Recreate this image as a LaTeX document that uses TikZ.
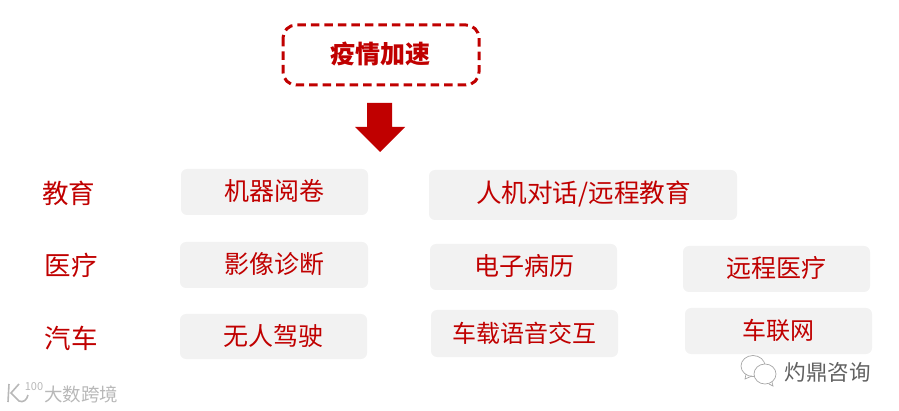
\documentclass[tikz,border=0pt]{standalone}
\usepackage{fontspec}
\usepackage{xcolor}
\setmainfont{Noto Sans CJK SC}
\definecolor{darkred}{HTML}{C00000}
\definecolor{boxgray}{HTML}{F2F2F2}
\tikzset{
  rowlabel/.style={text=darkred,font=\fontsize{26.5}{30}\selectfont},
  itemtext/.style={text=darkred,font=\fontsize{25}{29}\selectfont},
  smalltext/.style={text=darkred,font=\fontsize{24}{28}\selectfont},
  itemfill/.style={fill=boxgray,rounded corners=6pt},
  markgray/.style={text=black!62,font=\fontsize{21.5}{25}\selectfont,inner sep=0pt},
  marklight/.style={text=black!28,font=\fontsize{18.5}{22}\selectfont,inner sep=0pt}
}
\begin{document}
\begin{tikzpicture}[x=1pt,y=-1pt]
\useasboundingbox (0,0) rectangle (899,411);
% top box and arrow
\draw[darkred,line width=3pt,rounded corners=13pt,dash pattern=on 8.5pt off 5pt] (283,25) rectangle (479,85);
\node[text=darkred,font=\fontsize{25}{29}\selectfont\bfseries] (speedup) at (380.5,54) {疫情加速};
\fill[darkred] (367,103) -- (392,103) -- (392,127) -- (405,127) -- (380,152) -- (355,127) -- (367,127) -- cycle;
% row labels
\node[rowlabel] (edu) at (68.5,193) {教育};
\node[rowlabel] (med) at (71,265) {医疗};
\node[rowlabel] (car) at (71,338) {汽车};
% first row
\fill[itemfill] (181,169) rectangle (368,215);
\node[itemtext] (marking) at (274,191) {机器阅卷};
\fill[itemfill] (429,170) rectangle (737,220);
\node[text=darkred,font=\fontsize{25.6}{29}\selectfont] (dialog) at (583.5,194) {人机对话/远程教育};
% second row
\fill[itemfill] (180,242) rectangle (368,288);
\node[itemtext] (imaging) at (274,264) {影像诊断};
\fill[itemfill] (430,244) rectangle (617,290);
\node[itemtext] (records) at (524,266) {电子病历};
\fill[itemfill] (683,246) rectangle (870,292);
\node[itemtext] (remote) at (776,268) {远程医疗};
% third row
\fill[itemfill] (180,314) rectangle (367,359);
\node[itemtext] (driving) at (273.5,336) {无人驾驶};
\fill[itemfill] (431,310) rectangle (618,357);
\node[smalltext] (voice) at (524,333) {车载语音交互};
\fill[itemfill] (685,308) rectangle (872,354);
\node[smalltext] (network) at (778.5,330) {车联网};
% watermarks
\node[marklight] (brandleft) at (81,394) {大数跨境};
\node[text=black!28,font=\fontsize{11}{12}\selectfont,inner sep=0pt] (hundred) at (34,387) {100};
\draw[black!28,line width=1.6pt] (9,384) -- (8,402);
\draw[black!28,line width=1.6pt] (19,384) -- (11,393) -- (19,401) .. controls (23,403) and (27,400) .. (28,395);
\node[markgray] (brandright) at (827.5,372) {灼鼎咨询};
\draw[black!35,fill=white,line width=.7pt] (753,366) ellipse (12 and 10.5);
\draw[black!35,line width=.7pt] (746,374) -- (745,379) -- (752,376);
\draw[black!35,fill=white,line width=.7pt] (765,374) ellipse (11 and 10);
\draw[black!35,line width=.7pt] (769,384) -- (773,386) -- (772,382);
\end{tikzpicture}
\end{document}
